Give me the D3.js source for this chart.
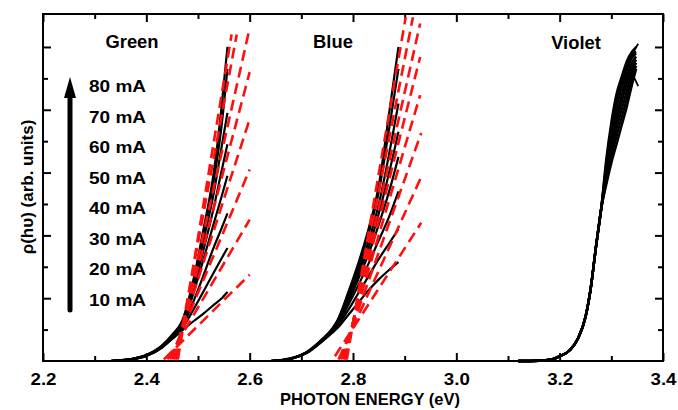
<!DOCTYPE html>
<html><head><meta charset="utf-8">
<script src="https://cdn.jsdelivr.net/npm/d3@7"></script>
<style>
html,body{margin:0;padding:0;background:#fff;}
svg text{font-family:"Liberation Sans",Arial,Helvetica,sans-serif;font-weight:bold;fill:#000;}
</style></head>
<body><svg id="c" width="678" height="410"></svg>
<script>
// ---------- data ----------
const currents = ["10 mA","20 mA","30 mA","40 mA","50 mA","60 mA","70 mA","80 mA"];
const groupNames = ["Green","Blue","Violet"];
const xMajorTicks = [2.2,2.4,2.6,2.8,3.0,3.2,3.4];
const xMinorTicks = [2.3,2.5,2.7,2.9,3.1,3.3];
const yMajorTicks = [2,4,6,8,10];
const yMinorTicks = [1,3,5,7,9];

// Green LED spectra (one row per current)
const greenE = [2.33,2.37,2.40,2.43,2.45,2.47,2.49,2.51,2.53,2.545,2.557];
const greenY = [
  [0,0.05,0.16,0.42,0.70,0.98,1.25,1.50,1.78,1.98,2.20],
  [0,0.05,0.16,0.43,0.72,1.05,1.60,2.20,2.80,3.25,3.60],
  [0,0.05,0.17,0.44,0.74,1.10,1.85,2.70,3.60,4.20,4.70],
  [0,0.05,0.17,0.45,0.76,1.15,2.10,3.20,4.35,5.20,5.90],
  [0,0.06,0.18,0.46,0.78,1.20,2.25,3.50,4.85,6.00,6.90],
  [0,0.06,0.18,0.47,0.80,1.25,2.35,3.80,5.30,6.75,7.90],
  [0,0.06,0.19,0.48,0.82,1.28,2.45,4.00,5.70,7.40,9.30],
  [0,0.06,0.19,0.49,0.84,1.30,2.50,4.15,5.95,8.00,10.0]
];
// Green linear fits: start and end points
const greenFitFrom = [[2.434,0.05],[2.441,0.05],[2.446,0.05],[2.450,0.05],[2.453,0.05],[2.456,0.05],[2.458,0.05],[2.461,0.05]];
const greenFitTo   = [[2.600,2.75],[2.600,4.50],[2.600,6.10],[2.600,7.70],[2.600,9.20],[2.600,10.6],[2.575,10.4],[2.565,10.4]];

// Blue LED spectra
const blueE = [2.64,2.68,2.71,2.74,2.76,2.77,2.79,2.81,2.83,2.85,2.87,2.888];
const blueY = [
  [0,0.07,0.25,0.62,0.90,1.05,1.45,1.85,2.25,2.60,2.90,3.15],
  [0,0.07,0.25,0.63,0.92,1.10,1.60,2.15,2.70,3.25,3.75,4.20],
  [0,0.07,0.26,0.64,0.94,1.15,1.75,2.40,3.10,3.85,4.60,5.40],
  [0,0.08,0.26,0.65,0.96,1.20,1.85,2.60,3.40,4.35,5.40,6.50],
  [0,0.08,0.27,0.66,0.98,1.22,1.95,2.75,3.60,4.70,6.00,7.30],
  [0,0.08,0.27,0.67,1.00,1.25,2.00,2.85,3.80,5.00,6.60,8.20],
  [0,0.08,0.28,0.68,1.02,1.28,2.10,3.00,4.05,5.40,7.40,9.30],
  [0,0.09,0.28,0.69,1.04,1.30,2.15,3.10,4.20,5.60,7.90,10.0]
];
const blueFitFrom = [[2.765,0.15],[2.772,0.05],[2.776,0.05],[2.779,0.05],[2.782,0.05],[2.784,0.05],[2.786,0.05],[2.788,0.05]];
const blueFitTo   = [[2.932,4.40],[2.932,5.86],[2.932,7.26],[2.930,8.47],[2.930,9.68],[2.930,10.75],[2.916,10.95],[2.902,10.95]];

// Violet LED spectra
const violetE = [3.12,3.16,3.185,3.20,3.22,3.235,3.25,3.26,3.27,3.28,3.29,3.30,3.31,3.32,3.33,3.34,3.348];
const violetY = [
  [0,0.01,0.05,0.15,0.35,0.70,1.40,2.30,3.60,4.80,5.60,6.30,6.90,7.50,8.10,8.80,9.30],
  [0,0.01,0.05,0.15,0.35,0.70,1.40,2.30,3.60,4.80,5.70,6.50,7.15,7.75,8.35,9.00,9.40],
  [0,0.01,0.05,0.15,0.35,0.70,1.40,2.30,3.60,4.80,5.80,6.70,7.40,8.00,8.60,9.20,9.50],
  [0,0.01,0.05,0.15,0.35,0.70,1.40,2.30,3.60,4.80,5.90,6.85,7.60,8.25,8.85,9.35,9.60],
  [0,0.01,0.05,0.15,0.35,0.70,1.40,2.30,3.60,4.80,6.00,7.00,7.80,8.45,9.05,9.50,9.70],
  [0,0.01,0.05,0.15,0.35,0.70,1.40,2.30,3.60,4.80,6.15,7.20,8.05,8.70,9.25,9.65,9.80],
  [0,0.01,0.05,0.15,0.35,0.70,1.40,2.30,3.60,4.80,6.25,7.40,8.30,8.90,9.40,9.75,9.85],
  [0,0.01,0.05,0.15,0.35,0.70,1.40,2.30,3.60,4.80,6.40,7.60,8.50,9.05,9.55,9.85,10.0]
];
const violetHooks = [
  [[3.334,9.60],[3.352,10.1]],
  [[3.336,9.30],[3.352,8.75]]
];

// ---------- drawing ----------
const svg = d3.select("#c");
const L=43, R=663, T=14, B=361;
const x = d3.scaleLinear().domain([2.2,3.4]).range([L,R]);
const y = d3.scaleLinear().domain([0,11.05]).range([B,T]);

function styleAxis(g){ g.select(".domain").remove(); g.selectAll("line").attr("stroke","#000").attr("stroke-width",2); }
svg.append("g").attr("transform",`translate(0,${B})`)
  .call(d3.axisBottom(x).tickValues(xMajorTicks).tickSizeInner(-8).tickSizeOuter(0).tickPadding(12).tickFormat(d3.format(".1f")))
  .call(styleAxis)
  .call(g=>g.selectAll("text").attr("font-size",17).attr("font-family","Liberation Sans, Arial, sans-serif")
        .attr("font-weight","bold").attr("transform","scale(1.1,1)"));
svg.append("g").attr("transform",`translate(0,${B})`)
  .call(d3.axisBottom(x).tickValues(xMinorTicks).tickSizeInner(-5).tickSizeOuter(0).tickFormat(""))
  .call(styleAxis);
svg.append("g").attr("transform",`translate(0,${T})`)
  .call(d3.axisTop(x).tickValues(xMajorTicks).tickSizeInner(-8).tickSizeOuter(0).tickFormat(""))
  .call(styleAxis);
svg.append("g").attr("transform",`translate(0,${T})`)
  .call(d3.axisTop(x).tickValues(xMinorTicks).tickSizeInner(-5).tickSizeOuter(0).tickFormat(""))
  .call(styleAxis);
svg.append("g").attr("transform",`translate(${L},0)`)
  .call(d3.axisLeft(y).tickValues(yMajorTicks).tickSizeInner(-8).tickSizeOuter(0).tickFormat(""))
  .call(styleAxis);
svg.append("g").attr("transform",`translate(${L},0)`)
  .call(d3.axisLeft(y).tickValues(yMinorTicks).tickSizeInner(-5).tickSizeOuter(0).tickFormat(""))
  .call(styleAxis);
svg.append("g").attr("transform",`translate(${R},0)`)
  .call(d3.axisRight(y).tickValues(yMajorTicks).tickSizeInner(-8).tickSizeOuter(0).tickFormat(""))
  .call(styleAxis);
svg.append("g").attr("transform",`translate(${R},0)`)
  .call(d3.axisRight(y).tickValues(yMinorTicks).tickSizeInner(-5).tickSizeOuter(0).tickFormat(""))
  .call(styleAxis);

svg.append("rect").attr("x",L).attr("y",T).attr("width",R-L).attr("height",B-T)
  .attr("fill","none").attr("stroke","#000").attr("stroke-width",2);

const line = d3.line().x(d=>x(d[0])).y(d=>y(d[1])).curve(d3.curveMonotoneX);
const straight = d3.line().x(d=>x(d[0])).y(d=>y(d[1]));

function drawCurves(E, Ys, w){
  Ys.forEach(row=>{
    svg.append("path").attr("d", line(E.map((e,i)=>[e,row[i]])))
      .attr("fill","none").attr("stroke","#000").attr("stroke-width",w).attr("stroke-linejoin","round");
  });
}
drawCurves(greenE, greenY, 2.2);
drawCurves(blueE, blueY, 2.2);
drawCurves(violetE, violetY, 2.4);
violetHooks.forEach(h=>{
  svg.append("path").attr("d", straight(h)).attr("fill","none").attr("stroke","#000").attr("stroke-width",1.8);
});

function drawFits(from,to){
  from.forEach((f,i)=>{
    svg.append("path").attr("d", straight([f,to[i]]))
      .attr("fill","none").attr("stroke","#ff1010").attr("stroke-width",2.6)
      .attr("stroke-dasharray","11,6");
  });
}
drawFits(greenFitFrom, greenFitTo);
drawFits(blueFitFrom, blueFitTo);

// group labels
const groupLabelPos = [[132,48],[333,48],[576,49]];
groupNames.forEach((n,i)=>{
  svg.append("text").attr("transform",`translate(${groupLabelPos[i][0]},${groupLabelPos[i][1]}) scale(1.05,1)`)
    .attr("text-anchor","middle").attr("font-size",17.5).text(n);
});

// current legend
const legendY = d3.scaleLinear().domain([0,7]).range([306,92]);
currents.forEach((c,i)=>{
  svg.append("text").attr("transform",`translate(89,${legendY(i)}) scale(1.12,1)`).attr("font-size",17).text(c);
});
// arrow
svg.append("line").attr("x1",70).attr("x2",70).attr("y1",310).attr("y2",94)
  .attr("stroke","#000").attr("stroke-width",5).attr("stroke-linecap","round");
svg.append("path").attr("d","M70,77 L76,98 L64,98 Z").attr("fill","#000");

// axis titles
svg.append("text").attr("x",370).attr("y",405).attr("text-anchor","middle").attr("font-size",16.5)
  .text("PHOTON ENERGY (eV)");
svg.append("text").attr("transform","translate(33,187) rotate(-90)").attr("text-anchor","middle")
  .attr("font-size",17).text("ρ(hυ) (arb. units)");
</script></body></html>
